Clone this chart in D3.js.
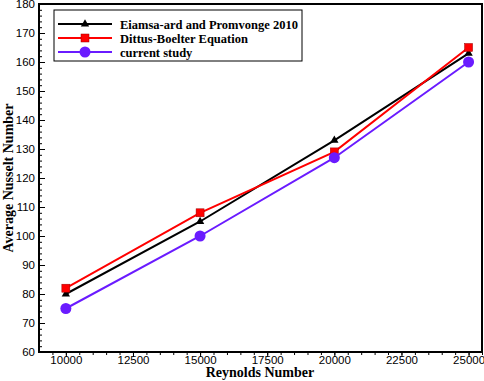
<!DOCTYPE html>
<html lang="en">
<head>
<meta charset="utf-8">
<script src="https://cdn.jsdelivr.net/npm/d3@7"></script>
<style>
  body { margin: 0; background: #fff; }
  .tick text { font-family: "Liberation Sans", Arial, sans-serif; font-size: 11.5px; }
  .title { font-family: "Liberation Serif", "Times New Roman", serif; font-weight: bold; font-size: 14px; }
  .leg { font-family: "Liberation Serif", "Times New Roman", serif; font-weight: bold; font-size: 12.5px; }
</style>
</head>
<body>
<div id="chart"></div>
<script>
var reynolds = [10000, 15000, 20000, 25000];
var eiamsa = [80, 105, 133, 163];
var dittus = [82, 108, 129, 165];
var current = [75, 100, 127, 160];
var xTicks = [10000, 12500, 15000, 17500, 20000, 22500, 25000];
var yTicks = [60, 70, 80, 90, 100, 110, 120, 130, 140, 150, 160, 170, 180];

var series = [
  {name: "Eiamsa-ard and Promvonge 2010", vals: eiamsa, color: "#000", marker: "tri"},
  {name: "Dittus-Boelter Equation", vals: dittus, color: "#f00", marker: "sq"},
  {name: "current study", vals: current, color: "#6a1bff", marker: "circ"}
];

var w = 484, h = 381;
var pL = 39, pR = 482, pT = 4, pB = 352;

var svg = d3.select("#chart").append("svg").attr("width", w).attr("height", h);

var x = d3.scaleLinear().domain([9000, 25500]).range([pL, pR]);
var y = d3.scaleLinear().domain([60, 180]).range([pB, pT]);

// minor ticks
var g = svg.append("g");
g.append("g").attr("transform", "translate(0," + pB + ")")
  .call(d3.axisBottom(x).tickValues(d3.range(9500, 25501, 500)).tickSize(3).tickFormat(""))
  .call(a => a.select(".domain").remove());
g.append("g").attr("transform", "translate(" + pL + ",0)")
  .call(d3.axisRight(y).tickValues(d3.range(60, 181, 2)).tickSize(3).tickFormat(""))
  .call(a => a.select(".domain").remove());

// major ticks
var xAxis = svg.append("g").attr("transform", "translate(0," + pB + ")")
  .call(d3.axisBottom(x).tickValues(xTicks).tickSize(5).tickFormat(d3.format("d")));
xAxis.select(".domain").remove();
xAxis.selectAll(".tick text").attr("y", 12).attr("dy", "0").attr("fill", "#000");

var yAxis = svg.append("g").attr("transform", "translate(" + pL + ",0)")
  .call(d3.axisRight(y).tickValues(yTicks).tickSize(6));
yAxis.select(".domain").remove();
yAxis.selectAll(".tick text").attr("x", -4).attr("text-anchor", "end").attr("fill", "#000");

svg.selectAll(".tick line").attr("stroke", "#000");

// frame
svg.append("rect").attr("x", pL).attr("y", pT)
  .attr("width", pR - pL).attr("height", pB - pT)
  .attr("fill", "none").attr("stroke", "#000").attr("stroke-width", 2);

var line = d3.line().x((d, i) => x(reynolds[i])).y(d => y(d));

function marker(sel, type, color) {
  if (type === "tri") {
    sel.append("path").attr("d", d3.symbol(d3.symbolTriangle, 30)).attr("fill", color);
  } else if (type === "sq") {
    sel.append("rect").attr("x", -4).attr("y", -4).attr("width", 8).attr("height", 8)
      .attr("fill", color).attr("stroke", "#900").attr("stroke-width", 0.5);
  } else {
    sel.append("circle").attr("r", 5.5).attr("fill", color);
  }
}

series.forEach(function(s) {
  svg.append("path").datum(s.vals).attr("d", line)
    .attr("fill", "none").attr("stroke", s.color).attr("stroke-width", 2);
  s.vals.forEach(function(v, i) {
    var m = svg.append("g").attr("transform", "translate(" + x(reynolds[i]) + "," + y(v) + ")");
    marker(m, s.marker, s.color);
  });
});

// legend
var leg = svg.append("g");
leg.append("rect").attr("x", 54).attr("y", 10).attr("width", 248).attr("height", 51)
  .attr("fill", "#fff").attr("stroke", "#000").attr("stroke-width", 1);
series.forEach(function(s, i) {
  var yy = 24 + i * 14;
  leg.append("line").attr("x1", 58).attr("x2", 112).attr("y1", yy).attr("y2", yy)
    .attr("stroke", s.color).attr("stroke-width", 2);
  var m = leg.append("g").attr("transform", "translate(85," + yy + ")");
  marker(m, s.marker, s.color);
  leg.append("text").attr("class", "leg").attr("x", 120).attr("y", yy + 4.5).text(s.name);
});

// titles
svg.append("text").attr("class", "title").attr("x", 260).attr("y", 377)
  .attr("text-anchor", "middle").text("Reynolds Number");
svg.append("text").attr("class", "title").attr("transform", "translate(13," + ((pT + pB) / 2) + ") rotate(-90)")
  .attr("text-anchor", "middle").text("Average Nusselt Number");
</script>
</body>
</html>
